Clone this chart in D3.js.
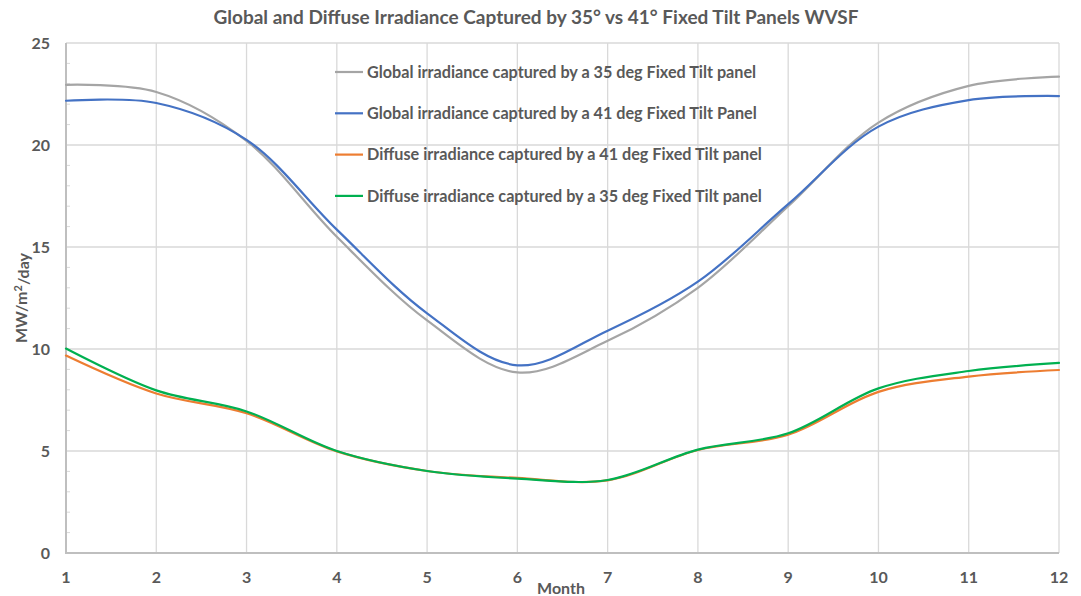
<!DOCTYPE html>
<html><head><meta charset="utf-8">
<script src="https://cdn.jsdelivr.net/npm/d3@7"></script>
<style>
body{margin:0;background:#fff;}
text{font-family:Lato,"Open Sans",sans-serif;font-weight:bold;fill:#595959;}
</style></head>
<body><svg id="c" width="1081" height="596"></svg>
<script>
const months = [1,2,3,4,5,6,7,8,9,10,11,12];
const global35 = [22.95,22.6,20.2,15.5,11.4,8.85,10.4,13.0,17.0,21.1,22.9,23.35];
const global41 = [22.17,22.06,20.25,15.85,11.75,9.2,10.9,13.3,17.1,20.9,22.2,22.4];
const diffuse41 = [9.68,7.82,6.85,4.98,4.02,3.68,3.56,5.05,5.8,7.9,8.65,8.97];
const diffuse35 = [10.02,7.97,6.94,5.0,4.02,3.65,3.58,5.07,5.87,8.07,8.92,9.32];
const yTicks = [0,5,10,15,20,25];
const seriesNames = [
  "Global irradiance captured by a 35 deg Fixed Tilt panel",
  "Global irradiance captured by a 41 deg Fixed Tilt Panel",
  "Diffuse irradiance captured by a 41 deg Fixed Tilt panel",
  "Diffuse irradiance captured by a 35 deg Fixed Tilt panel"
];
const seriesColors = ["#a5a5a5","#4472c4","#ed7d31","#00b050"];
const series = [global35, global41, diffuse41, diffuse35];

const svg = d3.select("#c");
const L=66, R=1059, T=43, B=553;
const x = d3.scaleLinear().domain([1,12]).range([L,R]);
const y = d3.scaleLinear().domain([0,25]).range([B,T]);

// gridlines
svg.append("g").selectAll("line").data(months.slice(1)).join("line")
  .attr("x1",d=>x(d)).attr("x2",d=>x(d)).attr("y1",T).attr("y2",B)
  .attr("stroke","#d9d9d9").attr("stroke-width",1.3);
svg.append("g").selectAll("line").data(yTicks.slice(1)).join("line")
  .attr("x1",L).attr("x2",R).attr("y1",d=>y(d)).attr("y2",d=>y(d))
  .attr("stroke","#d9d9d9").attr("stroke-width",1.3);
// minor ticks
svg.append("g").selectAll("line").data(d3.range(1,25).filter(v=>v%5!==0)).join("line")
  .attr("x1",L).attr("x2",L+4).attr("y1",d=>y(d)).attr("y2",d=>y(d))
  .attr("stroke","#d9d9d9").attr("stroke-width",1);
// axes lines
svg.append("line").attr("x1",L).attr("x2",L).attr("y1",T).attr("y2",B)
  .attr("stroke","#bfbfbf").attr("stroke-width",2);
svg.append("line").attr("x1",L-1).attr("x2",R).attr("y1",B).attr("y2",B)
  .attr("stroke","#bfbfbf").attr("stroke-width",2);

// tick labels
svg.append("g").selectAll("text").data(yTicks).join("text")
  .attr("x",50).attr("y",d=>y(d)).attr("dy","0.35em").attr("text-anchor","end")
  .style("font-size","16px").text(d=>d);
svg.append("g").selectAll("text").data(months).join("text")
  .attr("x",d=>x(d)).attr("y",577).attr("dy","0.35em").attr("text-anchor","middle")
  .style("font-size","16px").text(d=>d);

// lines
const line = d3.line().x((d,i)=>x(months[i])).y(d=>y(d)).curve(d3.curveCatmullRom.alpha(0.5));
series.forEach((s,i)=>{
  svg.append("path").datum(s).attr("d",line).attr("fill","none")
    .attr("stroke",seriesColors[i]).attr("stroke-width",2.2).attr("stroke-linecap","round");
});

// title
svg.append("text").attr("x",536).attr("y",17).attr("dy","0.35em").attr("text-anchor","middle")
  .style("font-size","19px").text("Global and Diffuse Irradiance Captured by 35° vs 41° Fixed Tilt Panels WVSF");
// axis titles
svg.append("text").attr("x",561).attr("y",588).attr("dy","0.35em").attr("text-anchor","middle")
  .style("font-size","16px").text("Month");
const yl = svg.append("text").attr("transform","translate(21,298) rotate(-90)")
  .attr("dy","0.35em").attr("text-anchor","middle").style("font-size","16px");
yl.append("tspan").text("MW/m");
yl.append("tspan").attr("dy","-0.4em").style("font-size","11px").text("2");
yl.append("tspan").attr("dy","0.4em").text("/day");

// legend
const lg = svg.append("g");
seriesNames.forEach((n,i)=>{
  const yy = 72 + i*41.3;
  lg.append("line").attr("x1",335).attr("x2",363).attr("y1",yy).attr("y2",yy)
    .attr("stroke",seriesColors[i]).attr("stroke-width",2.2);
  lg.append("text").attr("x",367).attr("y",yy).attr("dy","0.35em")
    .style("font-size","16.2px").text(n);
});
</script></body></html>
